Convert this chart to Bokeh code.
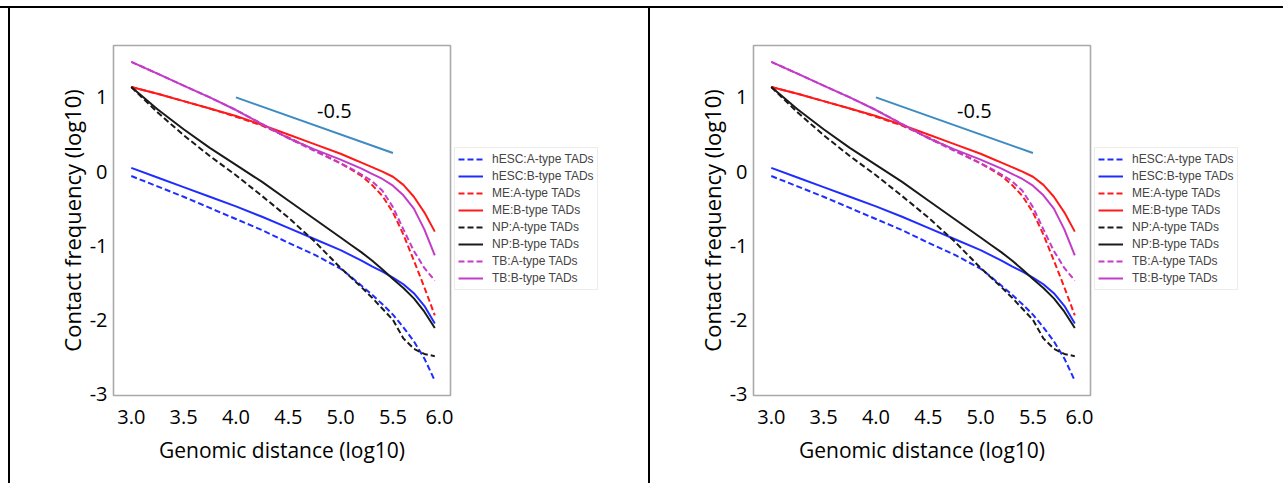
from bokeh.plotting import figure
from bokeh.models import Legend, LegendItem, FixedTicker, Div, Range1d, Label, NumeralTickFormatter
from bokeh.layouts import row, column
from bokeh.embed import file_html
from bokeh.resources import INLINE

# genomic distance (log10)
dist = [3.0, 3.25, 3.5, 3.75, 4.0, 4.25, 4.5, 4.75, 5.0, 5.1, 5.2, 5.3, 5.4, 5.5, 5.6, 5.7, 5.8, 5.9]

hesc_a = [-0.06, -0.20, -0.34, -0.49, -0.64, -0.79, -0.96, -1.12, -1.31, -1.42, -1.54, -1.66, -1.79, -1.93, -2.10, -2.29, -2.52, -2.82]
hesc_b = [0.05, -0.08, -0.21, -0.34, -0.47, -0.61, -0.76, -0.91, -1.06, -1.13, -1.20, -1.28, -1.35, -1.43, -1.52, -1.64, -1.81, -2.05]
me_a = [1.14, 1.05, 0.95, 0.85, 0.74, 0.62, 0.46, 0.29, 0.11, 0.03, -0.06, -0.18, -0.33, -0.55, -0.85, -1.20, -1.56, -1.94]
me_b = [1.14, 1.05, 0.95, 0.85, 0.75, 0.63, 0.50, 0.37, 0.24, 0.18, 0.12, 0.06, 0.00, -0.07, -0.18, -0.34, -0.55, -0.81]
np_a = [1.14, 0.80, 0.49, 0.21, -0.05, -0.33, -0.62, -0.94, -1.30, -1.43, -1.56, -1.70, -1.85, -2.00, -2.25, -2.39, -2.46, -2.49]
np_b = [1.14, 0.84, 0.57, 0.32, 0.09, -0.14, -0.39, -0.64, -0.89, -0.99, -1.09, -1.20, -1.32, -1.45, -1.57, -1.71, -1.89, -2.11]
tb_a = [1.48, 1.32, 1.16, 1.00, 0.83, 0.64, 0.45, 0.28, 0.11, 0.04, -0.04, -0.13, -0.26, -0.48, -0.78, -1.07, -1.30, -1.47]
tb_b = [1.48, 1.32, 1.16, 1.00, 0.83, 0.64, 0.45, 0.30, 0.16, 0.10, 0.04, -0.03, -0.10, -0.19, -0.32, -0.50, -0.78, -1.13]

series_names = ["hESC:A-type TADs", "hESC:B-type TADs", "ME:A-type TADs", "ME:B-type TADs",
                "NP:A-type TADs", "NP:B-type TADs", "TB:A-type TADs", "TB:B-type TADs"]
series_values = [hesc_a, hesc_b, me_a, me_b, np_a, np_b, tb_a, tb_b]
series_colors = ["#1f2eff", "#1f2eff", "#ff1a1a", "#ff1a1a", "#1a1a1a", "#1a1a1a", "#c23cc8", "#c23cc8"]
series_dashed = [True, False, True, False, True, False, True, False]

# reference slope line
slope_x = [4.0, 5.5]
slope_y = [1.0, 0.25]
slope_text = "-0.5"
slope_text_pos = (4.94, 0.81)

x_ticks = [3.0, 3.5, 4.0, 4.5, 5.0, 5.5, 6.0]
y_ticks = [-3, -2, -1, 0, 1]

FONT = "Open Sans"
PANEL_H = 475


def add_series(p):
    rs = []
    for vals, col, dashed in zip(series_values, series_colors, series_dashed):
        rs.append(p.line(dist, vals, line_color=col, line_width=2,
                         line_dash="6 3" if dashed else "solid"))
    return rs


def make_panel():
    p = figure(frame_width=337, frame_height=350,
               x_range=Range1d(2.83, 6.05), y_range=Range1d(-3.02, 1.70),
               output_backend="svg", toolbar_location=None,
               min_border_left=103, min_border_top=37, min_border_bottom=PANEL_H - 37 - 350,
               min_border_right=3)
    p.grid.visible = False
    p.outline_line_color = "#a9a9a9"
    p.outline_line_width = 1.6
    p.background_fill_color = "white"
    p.border_fill_color = "white"

    add_series(p)

    p.line(slope_x, slope_y, line_color="#3d8bc2", line_width=2)
    p.add_layout(Label(x=slope_text_pos[0], y=slope_text_pos[1], text=slope_text,
                       text_align="center", text_baseline="middle",
                       text_font=FONT, text_font_size="20px", text_color="black"))

    for ax in (p.xaxis[0], p.yaxis[0]):
        ax.axis_line_color = None
        ax.major_tick_out = 0
        ax.major_tick_in = 0
        ax.minor_tick_out = 0
        ax.minor_tick_in = 0
        ax.major_label_text_font = FONT
        ax.major_label_text_font_size = "20px"
        ax.major_label_text_color = "black"
        ax.axis_label_text_font = FONT
        ax.axis_label_text_font_style = "normal"
        ax.axis_label_text_color = "black"

    p.xaxis.ticker = FixedTicker(ticks=x_ticks)
    p.xaxis.formatter = NumeralTickFormatter(format="0.0")
    p.xaxis.axis_label = "Genomic distance (log10)"
    p.xaxis.axis_label_text_font_size = "21px"
    p.xaxis.major_label_standoff = 14
    p.xaxis.axis_label_standoff = 9

    p.yaxis.ticker = FixedTicker(ticks=y_ticks)
    p.yaxis.major_label_overrides = {t: str(t) for t in y_ticks}
    p.yaxis.axis_label = "Contact frequency (log10)"
    p.yaxis.axis_label_text_font_size = "22px"
    p.yaxis.major_label_standoff = 6
    p.yaxis.axis_label_standoff = 0
    return p


def make_legend_panel(width):
    lg = figure(width=width, height=PANEL_H, x_range=Range1d(100, 101), y_range=Range1d(100, 101),
                x_axis_type=None, y_axis_type=None, output_backend="svg",
                toolbar_location=None, min_border=0)
    lg.grid.visible = False
    lg.outline_line_color = None
    lg.background_fill_color = "white"
    lg.border_fill_color = "white"
    rs = add_series(lg)
    items = [LegendItem(label=n, renderers=[r]) for n, r in zip(series_names, rs)]
    legend = Legend(items=items, location=(1, 105), orientation="vertical",
                    border_line_color="#d9d9d9", border_line_width=1,
                    background_fill_color="white", background_fill_alpha=1.0,
                    label_text_font="Liberation Sans", label_text_font_size="12px",
                    label_text_color="#444444",
                    glyph_width=25, glyph_height=16, label_height=16,
                    spacing=1, padding=3, margin=0, label_standoff=9)
    lg.add_layout(legend, "center")
    return lg


p1 = make_panel()
lg1 = make_legend_panel(195)
p2 = make_panel()
lg2 = make_legend_panel(190)

black = {"background-color": "black"}
top_line = Div(width=1283, height=2, styles=black, margin=(6, 0, 0, 0))
v1 = Div(width=2, height=PANEL_H, styles=black, margin=(0, 0, 0, 8))
v2 = Div(width=2, height=PANEL_H, styles=black, margin=0)

layout = column(top_line, row(v1, p1, lg1, v2, p2, lg2))

open("out.html", "w").write(file_html(layout, INLINE))
